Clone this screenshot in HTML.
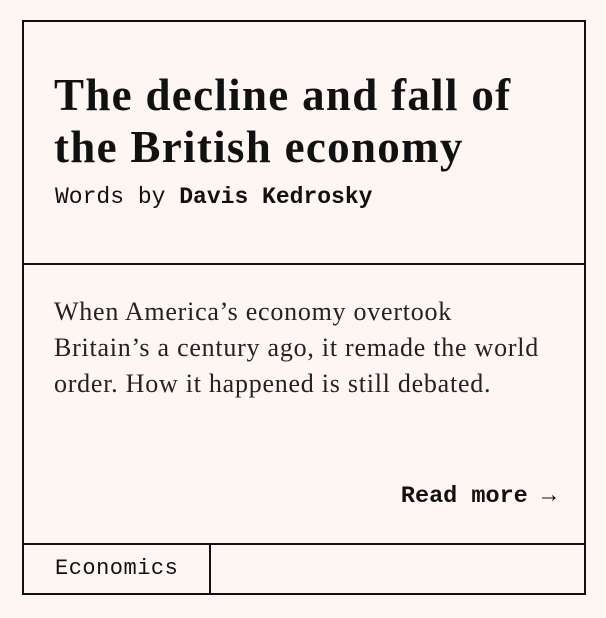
<!DOCTYPE html>
<html><head><meta charset="utf-8"><style>
html,body{margin:0;padding:0;background:#fdf6f2;width:606px;height:618px;overflow:hidden}
.card{position:absolute;left:22px;top:20px;width:560px;height:571px;border:2px solid #111;box-sizing:content-box}
.title{position:absolute;left:30px;top:47px;margin:0;font-family:"Liberation Serif",serif;font-weight:bold;font-size:45px;line-height:52px;color:#111;letter-spacing:1.3px;white-space:nowrap}
.byline{position:absolute;left:31px;top:162px;font-family:"Liberation Mono",monospace;font-size:23px;color:#111;white-space:nowrap}
.byline b{font-weight:bold}
.div1{position:absolute;left:0;top:241px;width:560px;height:2px;background:#111}
.body{position:absolute;left:30px;top:272px;width:530px;font-family:"Liberation Serif",serif;font-size:26px;line-height:36px;color:#222;white-space:nowrap;letter-spacing:0.75px}
.more{position:absolute;right:28px;top:461px;font-family:"Liberation Mono",monospace;font-weight:bold;font-size:23.5px;color:#111;text-decoration:none}
.div2{position:absolute;left:0;top:521px;width:560px;height:2px;background:#111}
.tag{position:absolute;left:0;top:523px;width:187px;height:48px;border-right:2px solid #111;font-family:"Liberation Mono",monospace;font-size:22px;line-height:48px;padding-left:31px;box-sizing:border-box;color:#111;letter-spacing:0.5px}
</style></head><body>
<div class="card">
<h1 class="title">The decline and fall of<br>the British economy</h1>
<div class="byline">Words by <b>Davis Kedrosky</b></div>
<div class="div1"></div>
<div class="body">When America’s economy overtook<br>Britain’s a century ago, it remade the world<br>order. How it happened is still debated.</div>
<a class="more">Read more →</a>
<div class="div2"></div>
<div class="tag">Economics</div>
</div>
</body></html>
